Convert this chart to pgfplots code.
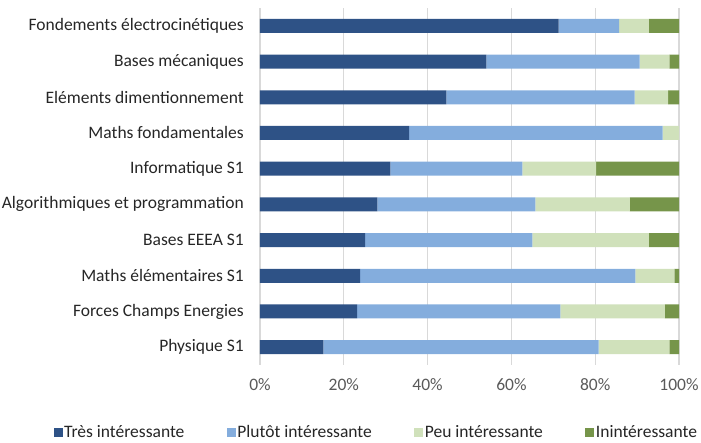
\documentclass[border=0pt]{standalone}
\usepackage{pgfplots}
\pgfplotsset{compat=1.18}
\usepackage{pgfplotstable}
\usepackage{fontspec}
\setmainfont{Carlito}
\definecolor{c1}{HTML}{2E5286}
\definecolor{c2}{HTML}{84ADDD}
\definecolor{c3}{HTML}{D0E1BB}
\definecolor{c4}{HTML}{76954A}
\definecolor{gridc}{HTML}{D9D9D9}
\definecolor{tickc}{HTML}{595959}
\definecolor{labc}{HTML}{262626}
\pgfplotstableread{
y tres plutot peu nin
0 71.3 14.4 7.1 7.2
1 54.0 36.6 7.1 2.3
2 44.5 44.9 8.0 2.6
3 35.6 60.5 3.9 0.0
4 31.1 31.5 17.6 19.8
5 28.0 37.7 22.6 11.7
6 25.1 39.9 27.8 7.2
7 23.9 65.7 9.3 1.1
8 23.2 48.5 24.9 3.4
9 15.1 65.7 16.9 2.3
}\data
\begin{document}
\begin{tikzpicture}
\path[use as bounding box] (-260pt,-78pt) rectangle (441pt,365pt);
\begin{axis}[
  at={(0pt,0pt)}, anchor=south west,
  scale only axis, width=419pt, height=357pt,
  xbar stacked, bar width=14pt,
  xmin=0, xmax=100, ymin=-0.5, ymax=9.5,
  y dir=reverse,
  axis line style={draw=none},
  xmajorgrids, grid style={gridc, line width=1.3pt},
  xtick={0,20,40,60,80,100},
  xticklabels={0\%,20\%,40\%,60\%,80\%,100\%},
  ytick={0,...,9},
  yticklabels={Fondements électrocinétiques, Bases mécaniques, Eléments dimentionnement, Maths fondamentales, Informatique S1, Algorithmiques et programmation, Bases EEEA S1, Maths élémentaires S1, Forces Champs Energies, Physique S1},
  major tick length=0pt,
  tick label style={font=\fontsize{17.5}{21}\selectfont},
  xticklabel style={tickc, inner sep=0pt, yshift=-13pt},
  yticklabel style={labc, inner sep=0pt, xshift=-16pt},
  legend columns=4,
  legend style={draw=none, at={(0.277,-0.188)}, anchor=center,
    font=\fontsize{17.5}{21}\selectfont, text=labc,
    /tikz/every even column/.append style={column sep=41pt},
    nodes={inner sep=1.5pt}},
  legend image code/.code={\fill[#1] (0pt,-4.5pt) rectangle (9pt,4.5pt);},
]
\addplot[fill=c1, draw=none] table[x=tres, y=y] {\data};
\addplot[fill=c2, draw=none] table[x=plutot, y=y] {\data};
\addplot[fill=c3, draw=none] table[x=peu, y=y] {\data};
\addplot[fill=c4, draw=none] table[x=nin, y=y] {\data};
\legend{Très intéressante, Plutôt intéressante, Peu intéressante, Inintéressante}
\end{axis}
\end{tikzpicture}
\end{document}
